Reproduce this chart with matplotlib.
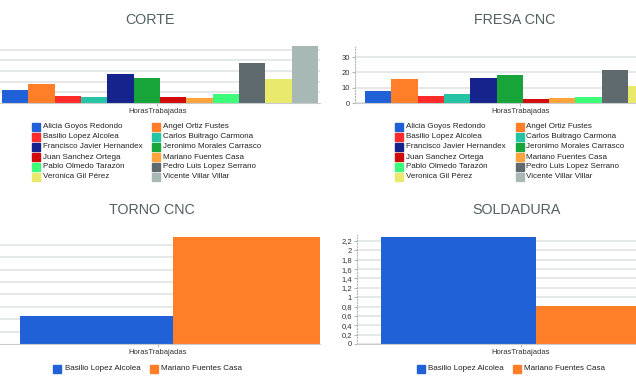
import numpy as np
import matplotlib
matplotlib.use('Agg')
import matplotlib.pyplot as plt
from matplotlib.patches import Rectangle

plt.rcParams['font.family'] = ['Liberation Sans', 'DejaVu Sans']

W, H = 636, 384

# datos
nombres = ['Alicia Goyos Redondo', 'Angel Ortiz Fustes', 'Basilio Lopez Alcolea',
           'Carlos Buitrago Carmona', 'Francisco Javier Hernandex', 'Jeronimo Morales Carrasco',
           'Juan Sanchez Ortega', 'Mariano Fuentes Casa', 'Pablo Olmedo Tarazón',
           'Pedro Luis Lopez Serrano', 'Veronica Gil Pérez', 'Vicente Villar Villar']
colores = ['#2161d8', '#ff7e27', '#ff2b2b', '#26c4a5', '#16238c', '#17a53a',
           '#d10a0a', '#ffa43d', '#3cfc7a', '#5e6a6e', '#e9e96c', '#a8b8b4']

corte_horas = [12.5, 18, 7, 5.3, 27, 23, 5.6, 4.4, 8.8, 37, 22, 53]
fresa_horas = [8, 15.7, 4.7, 6, 16, 18, 2.4, 3.4, 3.9, 21.5, 11.4, 14]  # el último queda fuera del recorte

torno_nombres = ['Basilio Lopez Alcolea', 'Mariano Fuentes Casa']
torno_horas = [2.25, 8.65]
soldadura_nombres = ['Basilio Lopez Alcolea', 'Mariano Fuentes Casa']
soldadura_horas = [2.285, 0.81]
dos_colores = ['#2161d8', '#ff7e27']

categoria = 'HorasTrabajadas'
color_titulo = '#52605f'
color_texto = '#222222'
color_rejilla = '#e0e4e4'


def px_axes(fig, x0, y0, x1, y1):
    # caja en pixeles (y hacia abajo) -> coordenadas de figura
    return fig.add_axes([x0 / W, 1 - y1 / H, (x1 - x0) / W, (y1 - y0) / H])


def estilo(ax, yticks, etiquetas, tick_x, eje_visible):
    ax.set_axisbelow(True)
    ax.yaxis.grid(True, color=color_rejilla, lw=1.2)
    for s in ['top', 'right']:
        ax.spines[s].set_visible(False)
    ax.spines['bottom'].set_color('#c8cccc')
    ax.spines['bottom'].set_linewidth(0.8)
    ax.set_yticks(yticks)
    if eje_visible:
        ax.set_yticklabels(etiquetas)
        ax.spines['left'].set_linestyle(':')
        ax.spines['left'].set_color('#b0b8b8')
        ax.spines['left'].set_linewidth(0.8)
        ax.tick_params(axis='y', length=2, pad=1.5, labelsize=5.5, colors='#b0b8b8',
                       labelcolor='#333333')
    else:
        ax.spines['left'].set_visible(False)
        ax.set_yticklabels([])
        ax.tick_params(axis='y', length=0)
    ax.set_xticks([tick_x])
    ax.set_xticklabels([categoria])
    ax.tick_params(axis='x', length=2, pad=1.5, labelsize=5.5, colors='#b0b8b8',
                   labelcolor='#333333')


def leyenda(fig, cajas_x, textos_x, filas_y, nombres_l, colores_l):
    n = 0
    for fy in filas_y:
        for cx, tx in zip(cajas_x, textos_x):
            if n >= len(nombres_l):
                return
            fig.patches.append(Rectangle((cx / W, 1 - (fy + 4) / H), 8 / W, 8 / H,
                                         transform=fig.transFigure, color=colores_l[n]))
            fig.text(tx / W, 1 - fy / H, nombres_l[n], fontsize=5.8, color=color_texto,
                     va='center', ha='left')
            n += 1


fig = plt.figure(figsize=(W / 100, H / 100), dpi=100)

# CORTE
ax = px_axes(fig, 0, 103 - 57.2, 320, 103)
u = 316 / 12
ax.bar(np.arange(12), corte_horas, width=1, align='edge', color=colores)
ax.set_xlim(-2 / u, 12 + 2 / u)
ax.set_ylim(0, 53.5)
estilo(ax, [10, 20, 30, 40, 50], None, 5.9, False)
fig.text(150 / W, 1 - 24 / H, 'CORTE', fontsize=10.3, color=color_titulo, ha='center', va='baseline')

# FRESA CNC
u = 26.3
ax = px_axes(fig, 355, 103 - 36.5 * 1.533, 700, 103)
ax.bar(np.arange(12), fresa_horas, width=1, align='edge', color=colores)
ax.set_xlim(-10 / u, (700 - 355 - 10) / u)
ax.set_ylim(0, 36.5)
estilo(ax, [0, 10, 20, 30], ['0', '10', '20', '30'], 5.9, True)
fig.text(515 / W, 1 - 24 / H, 'FRESA CNC', fontsize=10.3, color=color_titulo, ha='center', va='baseline')

# TORNO CNC
u = 153
ax = px_axes(fig, 0, 344 - 8.65 * 12.4, 320, 344)
ax.bar(np.arange(2), torno_horas, width=1, align='edge', color=dos_colores)
ax.set_xlim(-20 / u, 300 / u)
ax.set_ylim(0, 8.65)
estilo(ax, np.arange(1, 9), None, 0.9, False)
fig.text(152 / W, 1 - 214 / H, 'TORNO CNC', fontsize=10.3, color=color_titulo, ha='center', va='baseline')

# SOLDADURA
u = 155
ax = px_axes(fig, 357, 344 - 2.33 * 46.8, 700, 344)
ax.bar(np.arange(2), soldadura_horas, width=1, align='edge', color=dos_colores)
ax.set_xlim(-24 / u, (700 - 381) / u)
ax.set_ylim(0, 2.33)
ticks = np.round(np.arange(0, 2.21, 0.2), 1)
estilo(ax, ticks, [('%g' % t).replace('.', ',') for t in ticks], 0.9, True)
fig.text(517 / W, 1 - 214 / H, 'SOLDADURA', fontsize=10.3, color=color_titulo, ha='center', va='baseline')

# leyendas
filas = [127, 137, 147, 157, 167, 177]
leyenda(fig, [32, 152], [43, 163], filas, nombres, colores)
leyenda(fig, [395, 516], [406, 526], filas, nombres, colores)
leyenda(fig, [53, 150], [65, 161], [369], torno_nombres, dos_colores)
leyenda(fig, [417, 513], [428, 524], [369], soldadura_nombres, dos_colores)

fig.savefig('out.png', dpi=100)
